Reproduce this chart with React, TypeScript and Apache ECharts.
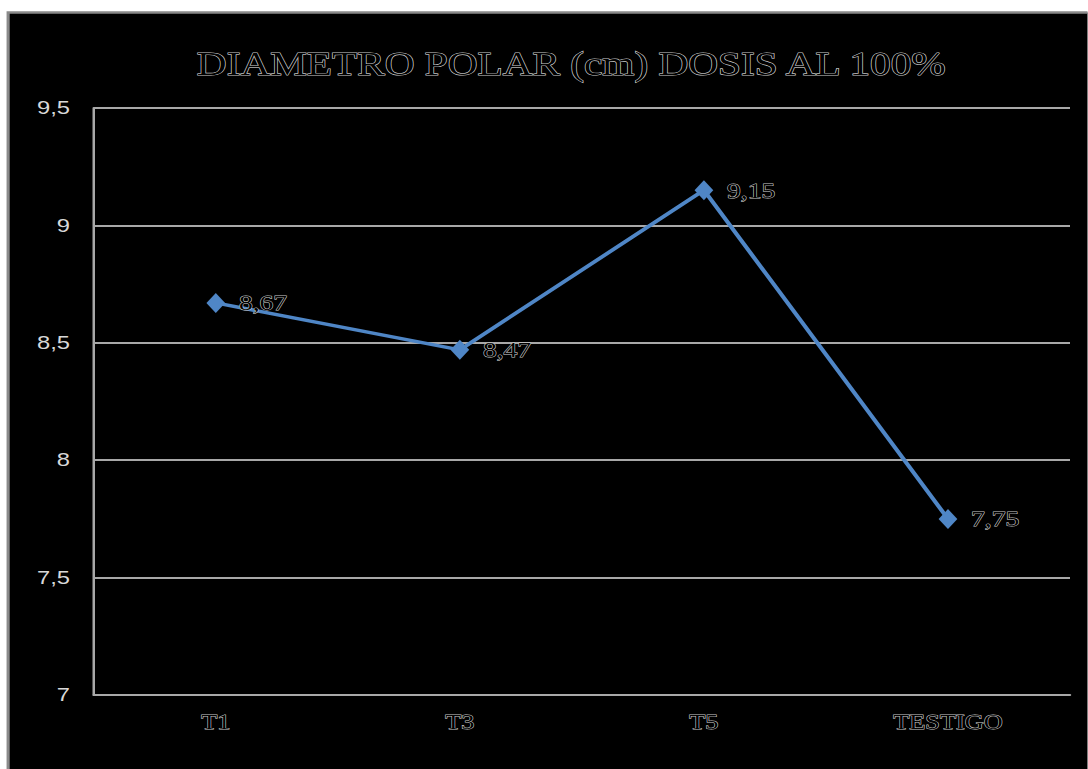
import React, { useEffect, useRef } from "react";
import * as echarts from "echarts";

const categories = ["T1", "T3", "T5", "TESTIGO"];
const values = [8.67, 8.47, 9.15, 7.75];
const titleText = "DIAMETRO POLAR (cm) DOSIS AL 100%";
const yMin = 7;
const yMax = 9.5;
const yInterval = 0.5;

const SX = 1.25;
const W = 1088 / SX;
const H = 769;

const fmt = (v: number) => String(v).replace(".", ",");

export default function App() {
  const ref = useRef<HTMLDivElement>(null);
  useEffect(() => {
    document.body.style.margin = "0";
    const chart = echarts.init(ref.current!, null, { renderer: "svg" });
    chart.setOption({
      animation: false,
      backgroundColor: "#ffffff",
      graphic: [
        {
          type: "rect",
          z: -10,
          silent: true,
          shape: { x: 6.5, y: 12.5, width: W + 10, height: H },
          style: { fill: "#000000", stroke: "#8a8a8a", lineWidth: 2.5 },
        },
      ],
      title: {
        text: titleText,
        left: 452,
        textAlign: "center",
        top: 42,
        textStyle: {
          fontFamily: "Liberation Serif",
          fontSize: 33,
          fontWeight: "normal",
          color: "#000000",
          textBorderColor: "#c8c8c8",
          textBorderWidth: 1.2,
        },
      },
      grid: { left: 75, right: 14, top: 108, bottom: 74 },
      xAxis: {
        type: "category",
        data: categories,
        boundaryGap: true,
        axisLine: { show: true, lineStyle: { color: "#a8a8a8", width: 2 } },
        axisTick: { show: false },
        axisLabel: {
          margin: 16,
          fontFamily: "Liberation Serif",
          fontSize: 21,
          color: "#000000",
          textBorderColor: "#c8c8c8",
          textBorderWidth: 1,
        },
      },
      yAxis: {
        type: "value",
        min: yMin,
        max: yMax,
        interval: yInterval,
        axisLine: { show: true, lineStyle: { color: "#a8a8a8", width: 2 } },
        axisTick: { show: false },
        splitLine: { lineStyle: { color: "#a8a8a8", width: 2 } },
        axisLabel: {
          margin: 19,
          fontFamily: "Liberation Sans",
          fontSize: 19,
          color: "#d8d8d8",
          formatter: (v: number) => fmt(v),
        },
      },
      series: [
        {
          type: "line",
          data: values,
          symbol: "diamond",
          symbolSize: [15, 20],
          lineStyle: { color: "#4f86c6", width: 3.5 },
          itemStyle: { color: "#4f86c6" },
          label: {
            show: true,
            position: "right",
            distance: 11,
            fontFamily: "Liberation Serif",
            fontSize: 22,
            color: "#000000",
            textBorderColor: "#c8c8c8",
            textBorderWidth: 1,
            formatter: (p: any) => fmt(p.value),
          },
        },
      ],
    });
    return () => chart.dispose();
  }, []);
  return (
    <div style={{ width: 1088, height: 769, overflow: "hidden" }}>
      <div
        ref={ref}
        style={{ width: W, height: H, transform: `scaleX(${SX})`, transformOrigin: "0 0" }}
      />
    </div>
  );
}
